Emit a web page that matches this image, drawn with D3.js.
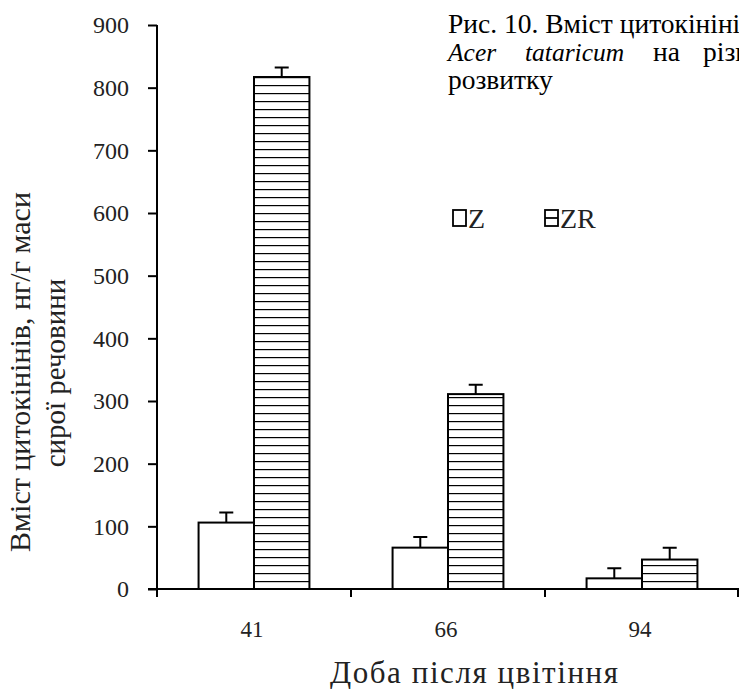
<!DOCTYPE html>
<html><head><meta charset="utf-8">
<script src="https://cdn.jsdelivr.net/npm/d3@7"></script>
<style>
html,body{margin:0;padding:0;background:#fff;overflow:hidden;}
svg{display:block;font-family:"Liberation Serif","Times New Roman",serif;}
</style></head>
<body>
<script>
// ---- data ----
const categories = ["41", "66", "94"];
const seriesNames = ["Z", "ZR"];
const zValues  = [106, 66, 17];
const zErrors  = [16, 17, 16];
const zrValues = [817, 311, 47];
const zrErrors = [15, 15, 19];
const yTicks = [0, 100, 200, 300, 400, 500, 600, 700, 800, 900];
const xTitle = "Доба після цвітіння";
const yTitle1 = "Вміст цитокінінів, нг/г маси";
const yTitle2 = "сирої речовини";

const W = 739, H = 689;
const svg = d3.select("body").append("svg").attr("width", W).attr("height", H);

const defs = svg.append("defs");
const pat = defs.append("pattern").attr("id", "hatch")
  .attr("patternUnits", "userSpaceOnUse").attr("width", 8).attr("height", 8)
  .attr("y", 589);
pat.append("rect").attr("width", 8).attr("height", 8).attr("fill", "#fff");
pat.append("line").attr("x1", 0).attr("x2", 8).attr("y1", 0).attr("y2", 0)
  .attr("stroke", "#000").attr("stroke-width", 2.4);

const x0 = d3.scaleBand().domain(categories).range([157, 739]).paddingInner(0).paddingOuter(0);
const x1 = d3.scaleBand().domain(seriesNames).range([0, x0.bandwidth()]).paddingInner(0).paddingOuter(0.75);
const y = d3.scaleLinear().domain([0, 900]).range([589, 25]);

const data = categories.map((c, i) => ({
  cat: c,
  bars: [
    {s: "Z", v: zValues[i], e: zErrors[i]},
    {s: "ZR", v: zrValues[i], e: zrErrors[i]}
  ]
}));

// bars
const g = svg.append("g");
const groups = g.selectAll("g.grp").data(data).join("g")
  .attr("transform", d => `translate(${x0(d.cat)},0)`);
groups.selectAll("rect").data(d => d.bars).join("rect")
  .attr("x", d => x1(d.s))
  .attr("y", d => y(d.v))
  .attr("width", x1.bandwidth())
  .attr("height", d => y(0) - y(d.v))
  .attr("fill", d => d.s === "Z" ? "#fff" : "url(#hatch)")
  .attr("stroke", "#000").attr("stroke-width", 2);

// error bars
groups.selectAll("path.err").data(d => d.bars).join("path")
  .attr("class", "err")
  .attr("d", d => {
    const cx = x1(d.s) + x1.bandwidth() / 2;
    return `M${cx},${y(d.v)}V${y(d.v + d.e)}M${cx - 7},${y(d.v + d.e)}H${cx + 7}`;
  })
  .attr("fill", "none").attr("stroke", "#000").attr("stroke-width", 2);

// y axis
const yAxis = d3.axisLeft(y).tickValues(yTicks).tickSize(9).tickPadding(19).tickSizeOuter(0);
const ya = svg.append("g").attr("transform", "translate(157,0)").call(yAxis)
  .attr("font-family", null).attr("font-size", null);
ya.select(".domain").attr("stroke-width", 2).attr("d", `M0,${y(900)}V${y(0) + 8}`);
ya.selectAll(".tick line").attr("stroke-width", 2);
ya.selectAll(".tick text").attr("font-size", 24)
  .attr("fill", "#222").attr("dy", "0.33em");

// x axis
const xa = svg.append("g").attr("transform", `translate(0,${y(0)})`);
xa.append("line").attr("x1", 148).attr("x2", W).attr("y1", 0).attr("y2", 0)
  .attr("stroke", "#000").attr("stroke-width", 2);
xa.selectAll("line.tk").data(categories.slice(1).concat(["end"])).join("line")
  .attr("class", "tk")
  .attr("x1", d => d === "end" ? x0.range()[1] - 1 : x0(d))
  .attr("x2", d => d === "end" ? x0.range()[1] - 1 : x0(d))
  .attr("y1", 0).attr("y2", 8).attr("stroke", "#000").attr("stroke-width", 2);
xa.selectAll("text").data(categories).join("text")
  .attr("x", d => x0(d) + x0.bandwidth() / 2 - 2)
  .attr("y", 48)
  .attr("text-anchor", "middle").attr("font-size", 23).attr("fill", "#222")
  .text(d => d);

// x title
svg.append("text").attr("x", 474).attr("y", 683).attr("text-anchor", "middle")
  .attr("font-size", 31).attr("fill", "#222")
  .attr("textLength", 288).attr("lengthAdjust", "spacing").text(xTitle);

// y title
svg.append("text").attr("transform", "translate(30,372) rotate(-90)")
  .attr("text-anchor", "middle").attr("font-size", 30).attr("fill", "#222").text(yTitle1);
svg.append("text").attr("transform", "translate(65,373) rotate(-90)")
  .attr("text-anchor", "middle").attr("font-size", 29).attr("fill", "#222").text(yTitle2);

// legend
const leg = svg.append("g");
const legItems = [{s: "Z", x: 453}, {s: "ZR", x: 545}];
const li = leg.selectAll("g").data(legItems).join("g")
  .attr("transform", d => `translate(${d.x},210)`);
li.append("rect").attr("width", 13).attr("height", 16)
  .attr("fill", "#fff").attr("stroke", "#000").attr("stroke-width", 1.8);
li.filter(d => d.s === "ZR").append("line")
  .attr("x1", 0).attr("x2", 13).attr("y1", 8).attr("y2", 8)
  .attr("stroke", "#000").attr("stroke-width", 1.8);
li.append("text").attr("x", 15).attr("y", 17.5).attr("font-size", 28).attr("fill", "#222")
  .text(d => d.s);

// caption
const cap = svg.append("g").attr("font-size", 27.5).attr("fill", "#000");
cap.append("text").attr("x", 448).attr("y", 33).text("Рис. 10. Вміст цитокінінів у листках");
const l2 = cap.append("text").attr("y", 61);
l2.append("tspan").attr("x", 448).attr("font-style", "italic").attr("font-size", 25.5).text("Acer");
l2.append("tspan").attr("x", 525).attr("font-style", "italic").attr("font-size", 25.5).text("tataricum");
l2.append("tspan").attr("x", 653).text("на");
l2.append("tspan").attr("x", 703).text("різних");
cap.append("text").attr("x", 448).attr("y", 89).text("розвитку");
</script>
</body></html>
